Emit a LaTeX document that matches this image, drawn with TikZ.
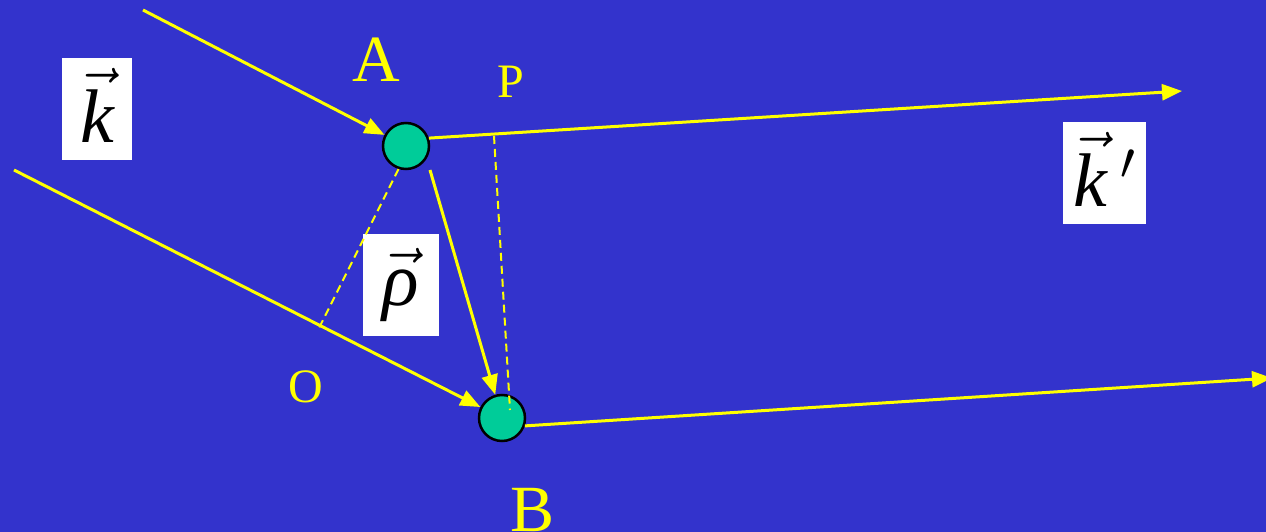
\RequirePackage{fix-cm}
\documentclass[tikz,border=0pt]{standalone}
\usepackage{fontspec}
\setmainfont{Liberation Serif}
\usetikzlibrary{arrows.meta}
\definecolor{bgblue}{RGB}{51,51,204}
\definecolor{ballgreen}{RGB}{0,204,153}
\definecolor{rayyellow}{RGB}{255,255,0}
\begin{document}
\begin{tikzpicture}[x=1pt,y=-1pt,
  ray/.style={draw=rayyellow, line width=3pt},
  arr/.style={ray, -{Triangle[length=20pt,width=16pt]}},
  projline/.style={draw=rayyellow, line width=2pt, dash pattern=on 8pt off 5pt},
  particle/.style={circle, fill=ballgreen, draw=black, line width=2.5pt, minimum size=46pt, inner sep=0pt},
  biglbl/.style={text=rayyellow, inner sep=0pt, font=\fontsize{66}{66}\selectfont},
  smalllbl/.style={text=rayyellow, inner sep=0pt, font=\fontsize{48}{48}\selectfont},
  vecbox/.style={fill=white, inner sep=0pt, minimum height=102pt, font=\fontsize{76}{76}\selectfont}
]
\fill[bgblue] (0,0) rectangle (1266,532);
\useasboundingbox (0,0) rectangle (1266,532);

% particles
\node[particle] (A) at (406,146) {};
\node[particle] (B) at (502,418) {};

% labels
\node[biglbl] (lA) at (376,60) {A};
\node[biglbl] (lB) at (533,510) {B};
\node[smalllbl] (lP) at (511,82) {P};
\node[smalllbl] (lO) at (306,387) {O};

% vector boxes
\node[vecbox, minimum width=70pt] (kvec) at (97,109) {\raisebox{7pt}{$\vec{\hbox{\itshape k}}$}};
\node[vecbox, minimum width=76pt] (rhovec) at (401,285) {$\vec{\hbox{\itshape ρ}}$};
\node[vecbox, minimum width=83pt] (kpvec) at (1104.5,173) {\raisebox{7pt}{$\vec{\hbox{\itshape k}}\,{}'$}};

% coordinates for free ends
\coordinate (in1) at (143,10);
\coordinate (in2) at (14,170);
\coordinate (outA) at (1182,91);
\coordinate (outB) at (1272,378);
\coordinate (abstart) at (430,170);
\coordinate (Ofoot) at (319,328);
\coordinate (Pfoot) at (494,136);
\coordinate (Pend) at (510,410);

% incoming rays
\draw[arr] (in1) -- (A);
\draw[arr] (in2) -- (B);
% outgoing rays
\draw[arr] (A.19) -- (outA);
\draw[arr] (B.-19) -- (outB);
% separation vector
\draw[arr] (abstart) -- (B);
% projections
\draw[projline] (A.-108) -- (Ofoot);
\draw[projline] (Pfoot) -- (Pend);
\end{tikzpicture}
\end{document}
